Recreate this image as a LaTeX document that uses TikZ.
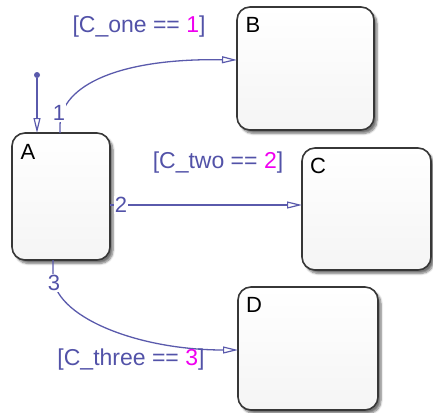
\documentclass[tikz,border=0pt]{standalone}
\usepackage{fontspec}
\setmainfont{Liberation Sans}
\usetikzlibrary{arrows.meta,calc,shadows.blur}
\definecolor{tblue}{RGB}{82,82,168}
\definecolor{tline}{RGB}{90,90,172}
\definecolor{tmag}{RGB}{240,0,240}
\definecolor{sborder}{RGB}{55,55,55}
\tikzset{
  statebox/.style={draw=sborder, line width=1.6pt, rounded corners=13pt,
    top color=white, bottom color=black!4, anchor=north west, inner sep=0pt, outer sep=0pt,
    blur shadow={shadow xshift=3pt, shadow yshift=-3.5pt, shadow blur steps=6, shadow opacity=55}},
  sname/.style={anchor=center, font=\fontsize{22}{24}\selectfont, text=black, inner sep=0pt},
  trans/.style={draw=tline, line width=1.3pt, -{Triangle[open, length=15pt, width=7pt, line width=1.2pt]}},
  tnum/.style={fill=white, inner sep=1pt, text=tblue, font=\fontsize{22}{24}\selectfont},
  cond/.style={text=tblue, inner sep=0pt, font=\fontsize{23}{26}\selectfont},
}
\begin{document}
\begin{tikzpicture}[x=1pt,y=-1pt]
\useasboundingbox (0,0) rectangle (433,412);
% states
\node[statebox, minimum width=98pt, minimum height=127pt] (A) at (12,133) {};
\node[statebox, minimum width=137pt, minimum height=123pt] (B) at (237,7) {};
\node[statebox, minimum width=129pt, minimum height=122pt] (C) at (302,148) {};
\node[statebox, minimum width=140pt, minimum height=123pt] (D) at (238,287) {};
\node[sname] (An) at (28,152) {A};
\node[sname] (Bn) at (253,25) {B};
\node[sname] (Cn) at (318,166) {C};
\node[sname] (Dn) at (254,305) {D};
% initial transition
\node[circle, fill=tline, inner sep=0pt, minimum size=6pt] (init) at (37,75) {};
\draw[trans] (init) -- (init |- A.north);
% transition 1
\coordinate (s1) at ($(A.north west)+(48,0)$);
\coordinate (e1) at ($(B.north west)+(0,53)$);
\draw[trans] (s1) -- ++(0,-8) .. controls ++(1,-40) and ($(e1)+(-117,-2)$) .. (e1);
\node[tnum] (n1) at (59,113) {1};
\node[cond] (c1) at (139,27) {[C\_one == \textcolor{tmag}{1}]};
% transition 2
\coordinate (s2) at ($(A.north east)+(0,72)$);
\coordinate (e2) at ($(C.north west)+(0,57)$);
\draw[trans] (s2) -- (e2);
\node[tnum] (n2) at (121,205) {2};
\node[cond] (c2) at (218,163) {[C\_two == \textcolor{tmag}{2}]};
% transition 3
\coordinate (s3) at ($(A.south west)+(41,0)$);
\coordinate (e3) at ($(D.north west)+(0,63)$);
\draw[trans] (s3) -- ++(0,15) .. controls ++(0,41) and ($(e3)+(-102,0)$) .. (e3);
\node[tnum] (n3) at (54,283) {3};
\node[cond] (c3) at (131,360) {[C\_three == \textcolor{tmag}{3}]};
\end{tikzpicture}
\end{document}
